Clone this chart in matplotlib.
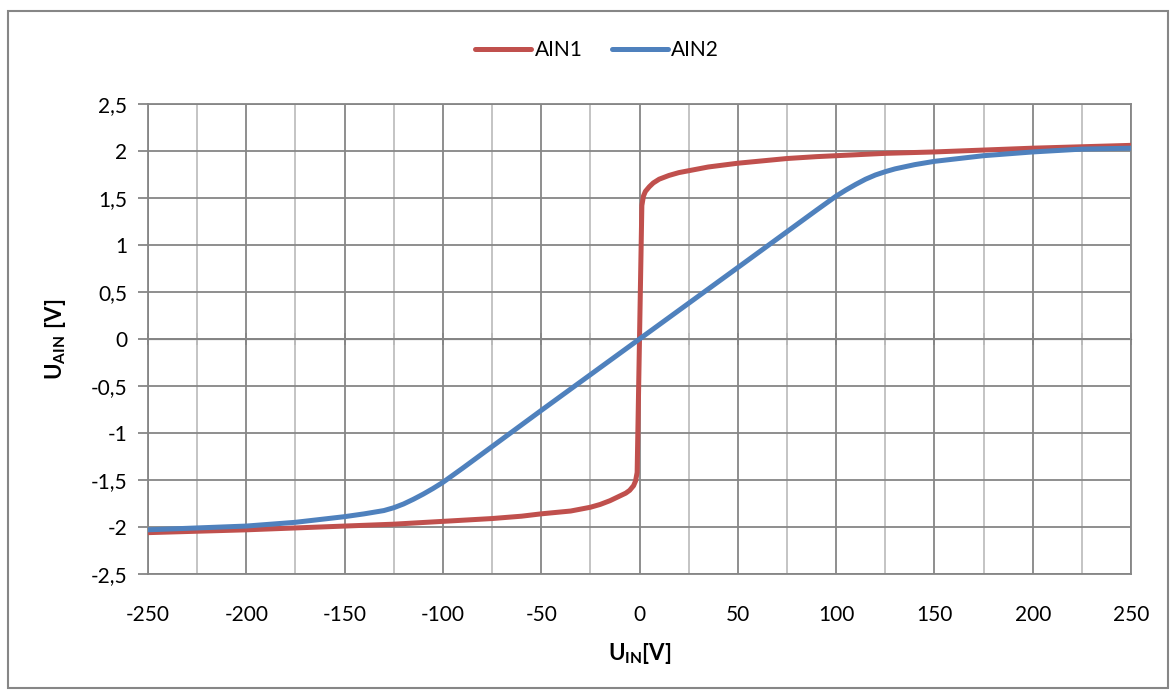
import matplotlib.pyplot as plt
from matplotlib.ticker import MultipleLocator, FuncFormatter, NullFormatter
from matplotlib.patches import Rectangle

plt.rcParams['font.family'] = ['Lato', 'DejaVu Sans']
plt.rcParams['mathtext.fontset'] = 'custom'
plt.rcParams['mathtext.rm'] = 'Lato'
plt.rcParams['mathtext.bf'] = 'Lato:bold'

# input voltage U_IN [V] and measured output U_AIN [V]
ain1_x = [-250, -200, -150, -125, -100, -75, -60, -50, -35, -25, -20, -15, -10, -7, -5, -3, -2, -1.2,
          0, 1.2, 2, 3, 5, 7, 10, 15, 20, 25, 35, 50, 60, 75, 90, 100, 125, 150, 200, 250]
ain1_y = [-2.06, -2.03, -1.99, -1.97, -1.94, -1.91, -1.885, -1.86, -1.83, -1.79, -1.76, -1.72, -1.67, -1.64, -1.61, -1.56, -1.51, -1.42,
          0.0, 1.42, 1.52, 1.57, 1.62, 1.66, 1.70, 1.74, 1.77, 1.79, 1.83, 1.87, 1.89, 1.92, 1.94, 1.95, 1.975, 1.99, 2.03, 2.06]

ain2_x = [-250, -225, -200, -175, -150, -140, -130, -125, -120, -115, -110, -105, -100, -90,
          -50, 0, 50, 90, 100, 105, 110, 115, 120, 125, 130, 140, 150, 175, 200, 225, 250]
ain2_y = [-2.03, -2.01, -1.99, -1.95, -1.89, -1.86, -1.825, -1.795, -1.755, -1.705, -1.65, -1.59, -1.525, -1.375,
          -0.76, 0.0, 0.76, 1.37, 1.52, 1.585, 1.645, 1.70, 1.745, 1.78, 1.81, 1.855, 1.89, 1.95, 1.99, 2.02, 2.03]

RED = '#C0504D'
BLUE = '#4F81BD'
GRID_DARK = '#868686'
GRID_LIGHT = '#BFBFBF'

fig = plt.figure(figsize=(11.76, 6.91), dpi=100)
ax = fig.add_axes([148 / 1176, 1 - 574 / 691, 983 / 1176, 470 / 691])

ax.plot(ain1_x, ain1_y, color=RED, lw=3.6, solid_capstyle='round',
        solid_joinstyle='round', label='AIN1', zorder=3)
ax.plot(ain2_x, ain2_y, color=BLUE, lw=3.6, solid_capstyle='round',
        solid_joinstyle='round', label='AIN2', zorder=4)

ax.set_xlim(-250, 250)
ax.set_ylim(-2.5, 2.5)
ax.xaxis.set_major_locator(MultipleLocator(50))
ax.xaxis.set_minor_locator(MultipleLocator(25))
ax.yaxis.set_major_locator(MultipleLocator(0.5))

comma = FuncFormatter(lambda v, p: ('%g' % v).replace('.', ','))
ax.xaxis.set_major_formatter(comma)
ax.yaxis.set_major_formatter(comma)

ax.grid(which='major', axis='both', color=GRID_DARK, lw=1.3)
ax.grid(which='minor', axis='x', color=GRID_LIGHT, lw=1.3)
ax.set_axisbelow(True)
for s in ax.spines.values():
    s.set_color(GRID_DARK)
    s.set_linewidth(1.3)

ax.tick_params(axis='y', which='major', length=7, width=1.3, color=GRID_DARK,
               labelsize=15, pad=8)
ax.tick_params(axis='x', which='both', length=0, labelsize=15, pad=22)

# horizontal axis line crossing at zero with its tick marks
ax.axhline(0, color=GRID_DARK, lw=1.3, zorder=1)
zero_axis = ax.secondary_xaxis(0.5)
zero_axis.spines['bottom'].set_visible(False)
zero_axis.xaxis.set_major_locator(MultipleLocator(25))
zero_axis.xaxis.set_major_formatter(NullFormatter())
zero_axis.tick_params(axis='x', which='both', direction='inout', length=8, width=1.3,
                      color=GRID_DARK)

ax.set_xlabel(r'$\mathbf{U_{IN}[V]}$', fontsize=16, labelpad=12)
ax.set_ylabel(r'$\mathbf{U_{AIN}\ [V]}$', fontsize=16, labelpad=16)

fig.legend(loc='center', bbox_to_anchor=(597 / 1176, 1 - 50 / 691), ncol=2,
           frameon=False, fontsize=15, handlelength=2.7, handletextpad=0.15,
           columnspacing=1.4)

fig.patches.append(Rectangle((8 / 1176, 3 / 691), 1160 / 1176, 677 / 691,
                             transform=fig.transFigure, fill=False,
                             edgecolor=GRID_DARK, lw=1.5))

fig.savefig('out.png', dpi=100)
